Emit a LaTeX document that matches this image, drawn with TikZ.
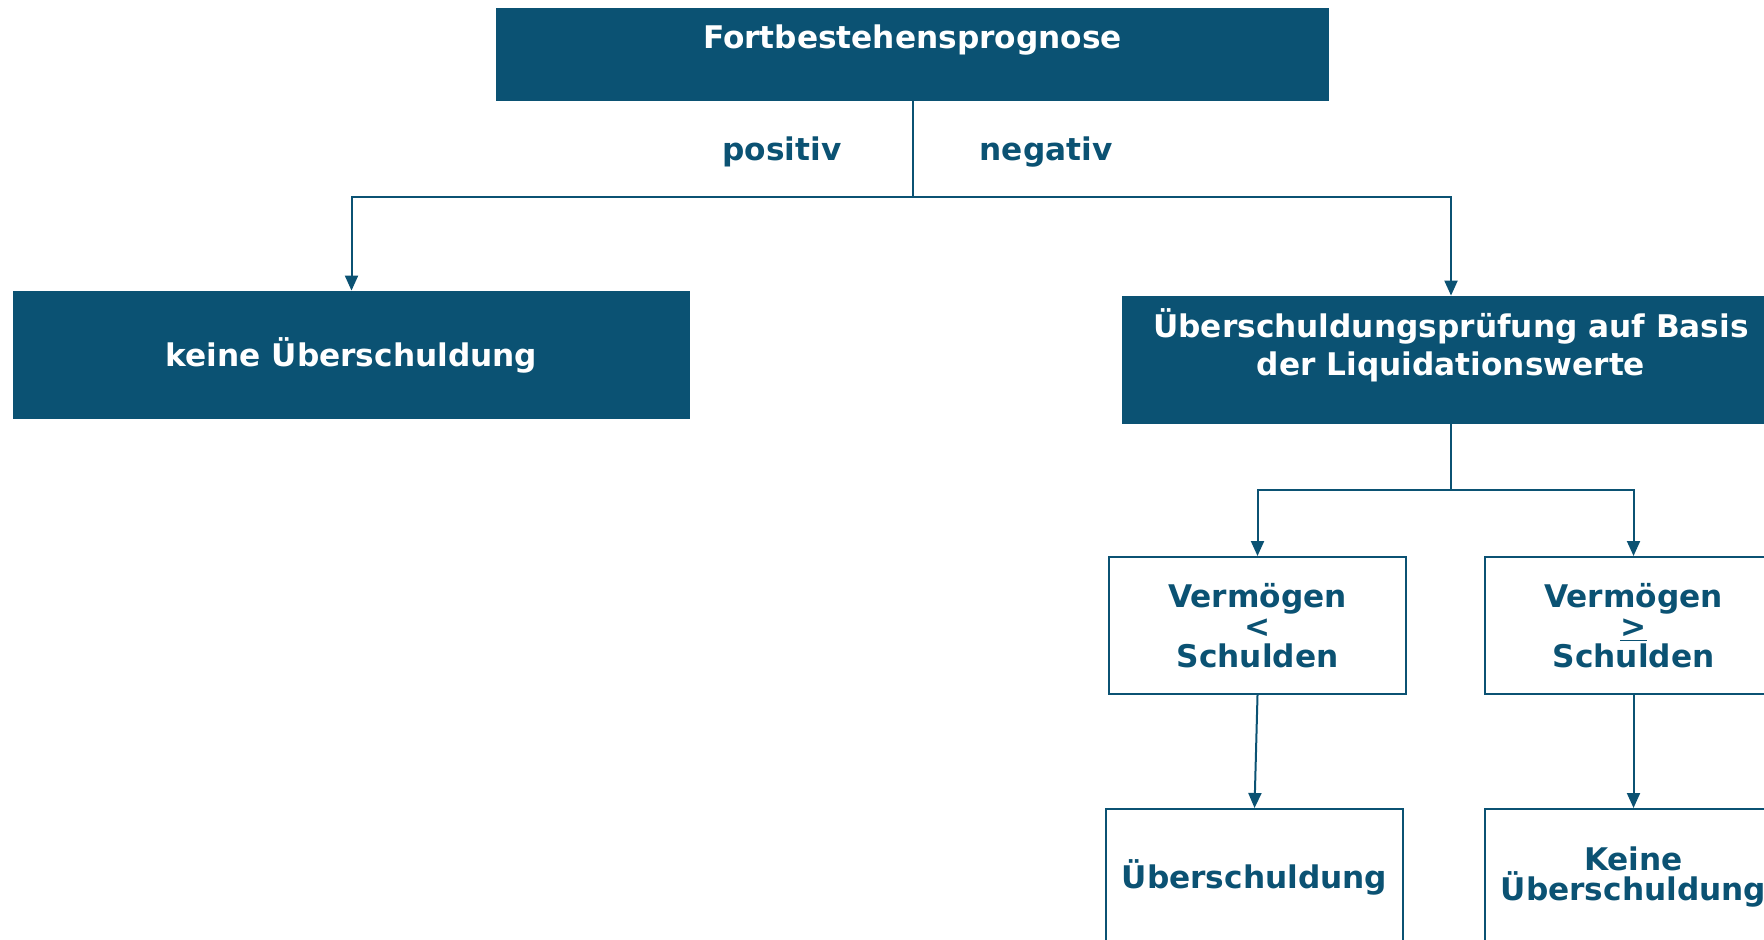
\documentclass[tikz,border=0pt]{standalone}
\usepackage{fontspec}
\setmainfont{DejaVu Sans}
\usepackage{tikz}
\usetikzlibrary{arrows.meta,positioning}
\definecolor{petrol}{HTML}{0B5273}

\begin{document}
\begin{tikzpicture}[x=0.5pt,y=-0.5pt,
    every node/.style={font=\bfseries\fontsize{15.6}{15}\selectfont},
    darkbox/.style={fill=petrol,text=white,align=center,inner sep=0pt},
    whitebox/.style={draw=petrol,line width=1pt,text=petrol,align=center,inner sep=0pt,
      minimum width=148.5pt,minimum height=68.5pt},
    conn/.style={draw=petrol,line width=1pt,-{Triangle[length=7.5pt,width=6.5pt]}}]
  \useasboundingbox (0,0) rectangle (1764,940);
  \clip (0,0) rectangle (1764,940);
  \node[darkbox,minimum width=416.5pt,minimum height=46.5pt,
    label={[white,yshift=7.3pt]center:Fortbestehensprognose}] (progn) at (912.5,54.5) {};
  \node[darkbox,minimum width=338.5pt,minimum height=64pt] (keine) at (351.5,355) {keine Überschuldung};
  \node[darkbox,minimum width=329pt,minimum height=64pt,
    label={[white,align=center,yshift=7.2pt,font=\bfseries\fontsize{15.6}{19}\selectfont]center:Überschuldungsprüfung auf Basis\\der Liquidationswerte}] (liq) at (1451,360) {};
  \node[text=petrol] (pos) at (782,152) {positiv};
  \node[text=petrol] (neg) at (1046,152) {negativ};
  \node[whitebox] (kleiner) at (1257.5,625.5) {Vermögen\\<\\Schulden};
  \node[whitebox] (groesser) at (1633.5,625.5) {Vermögen\\\underline{>}\\Schulden};
  \node[whitebox] (ueber) at (1254.5,877.5) {Überschuldung};
  \node[whitebox] (nicht) at (1633.5,877.5) {Keine\\Überschuldung};
  \coordinate (fork) at (912.5,197);
  \coordinate (fork2) at (1451,490);
  \draw[conn] (progn.south) -- (fork) -| (keine.north);
  \draw[conn] (fork) -| (liq.north);
  \draw[conn] (liq.south) -- (fork2) -| (kleiner.north);
  \draw[conn] (fork2) -| (groesser.north);
  \draw[conn] (kleiner.south) -- (ueber.north);
  \draw[conn] (groesser.south) -- (nicht.north);
\end{tikzpicture}
\end{document}
